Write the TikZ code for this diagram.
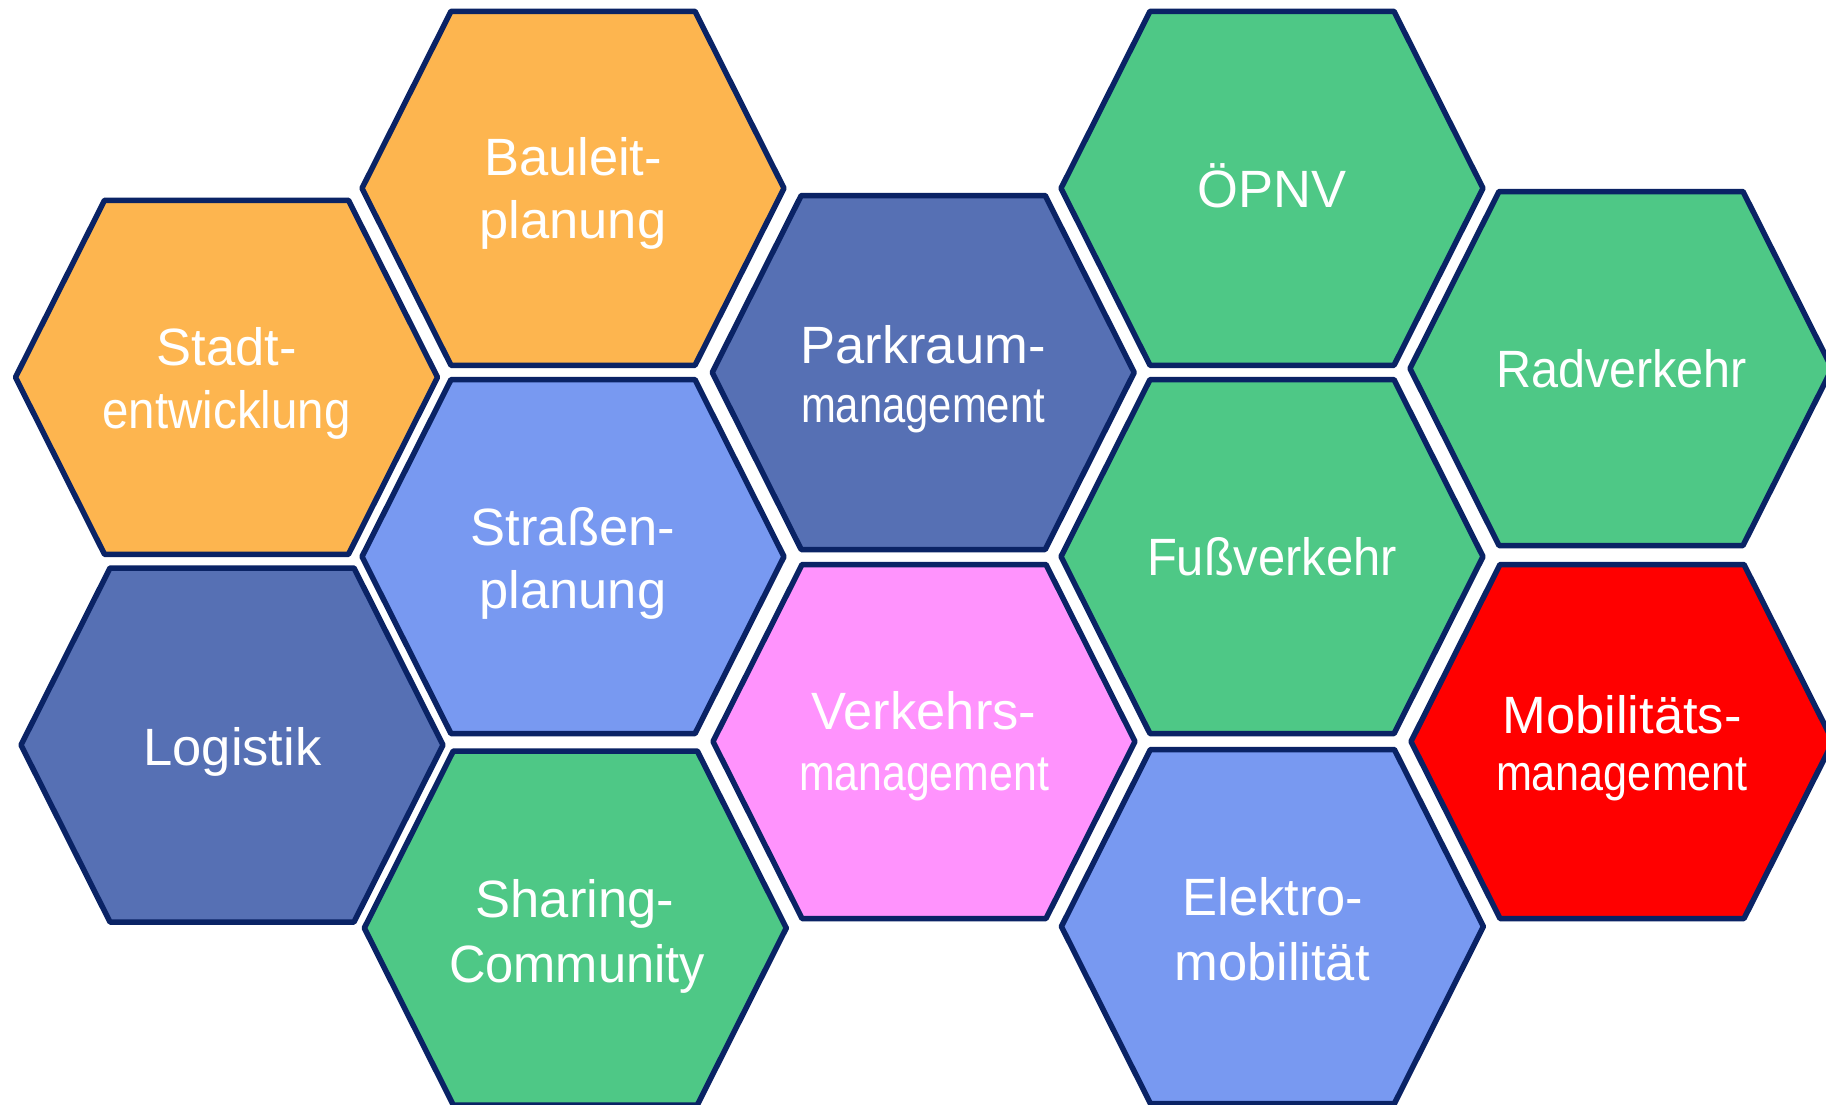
\documentclass[tikz,border=0pt]{standalone}
\usepackage{fontspec}
\setmainfont{Liberation Sans}
\usepackage{graphicx}
\definecolor{navy}{HTML}{0A2365}
\definecolor{orangeC}{HTML}{FDB54F}
\definecolor{dblue}{HTML}{5670B4}
\definecolor{lblue}{HTML}{7899F1}
\definecolor{greenC}{HTML}{4EC886}
\definecolor{pinkC}{HTML}{FF93FD}
\definecolor{redC}{HTML}{FF0000}
\tikzset{
  hexline/.style={draw=navy, line width=5.5pt, line join=round},
  lbl/.style={text=white, inner sep=0pt, outer sep=0pt, anchor=base, font=\fontsize{52.5}{60}\selectfont},
  lblm/.style={lbl, font=\fontsize{50.5}{58}\selectfont},
}
\newcommand\hexcell[3]{%
  \coordinate (#1) at #2;
  \draw[hexline, fill=#3, shift={#2}] (-211,0) -- (-122,-177) -- (122,-177) -- (211,0) -- (122,177) -- (-122,177) -- cycle;}
\newcommand\fitto[2]{\resizebox{#1pt}{\height}{#2}}
\begin{document}
\begin{tikzpicture}[x=1pt, y=-1pt]
\useasboundingbox (0,0) rectangle (1826,1104);
\fill[white] (0,0) rectangle (1826,1104);
\clip (0,0) rectangle (1826,1104);
% hexagons
\hexcell{hStadt}{(226.5,377.3)}{orangeC}
\hexcell{hLogistik}{(232,745)}{dblue}
\hexcell{hBauleit}{(573,188.3)}{orangeC}
\hexcell{hStrassen}{(573,556.6)}{lblue}
\hexcell{hSharing}{(575.3,928)}{greenC}
\hexcell{hParkraum}{(923.2,372.5)}{dblue}
\hexcell{hVerkehrs}{(924,741.5)}{pinkC}
\hexcell{hOePNV}{(1272,188.3)}{greenC}
\hexcell{hFuss}{(1272,556.6)}{greenC}
\hexcell{hElektro}{(1272.4,926.5)}{lblue}
\hexcell{hRad}{(1621,368.5)}{greenC}
\hexcell{hMob}{(1622,741.5)}{redC}
% labels
\node[lbl] (tStadtA) at (226.5,365) {Stadt-};
\node[lbl] (tStadtB) at (226.5,428) {\fitto{248}{entwicklung}};
\node[lbl] (tBauleitA) at (573,175) {Bauleit-};
\node[lbl] (tBauleitB) at (573,238) {planung};
\node[lbl] (tStrassenA) at (573,545) {Straßen-};
\node[lbl] (tStrassenB) at (573,608) {planung};
\node[lbl] (tSharingA) at (575,917) {Sharing-};
\node[lbl] (tSharingB) at (577,982) {\fitto{256}{Community}};
\node[lbl] (tLogistik) at (232.5,765) {Logistik};
\node[lbl] (tParkraumA) at (923,363) {Parkraum-};
\node[lblm] (tParkraumB) at (923,422) {\fitto{244}{management}};
\node[lbl] (tVerkehrsA) at (924,729) {Verkehrs-};
\node[lblm] (tVerkehrsB) at (924,790) {\fitto{250}{management}};
\node[lbl] (tOePNV) at (1272,207.5) {ÖPNV};
\node[lbl] (tFuss) at (1272,575.5) {\fitto{250}{Fußverkehr}};
\node[lbl] (tElektroA) at (1273,915) {Elektro-};
\node[lbl] (tElektroB) at (1272,980) {mobilität};
\node[lbl] (tRad) at (1621.5,387) {\fitto{251}{Radverkehr}};
\node[lbl] (tMobA) at (1622,733) {Mobilitäts-};
\node[lblm] (tMobB) at (1622,790) {\fitto{252}{management}};
\end{tikzpicture}
\end{document}
